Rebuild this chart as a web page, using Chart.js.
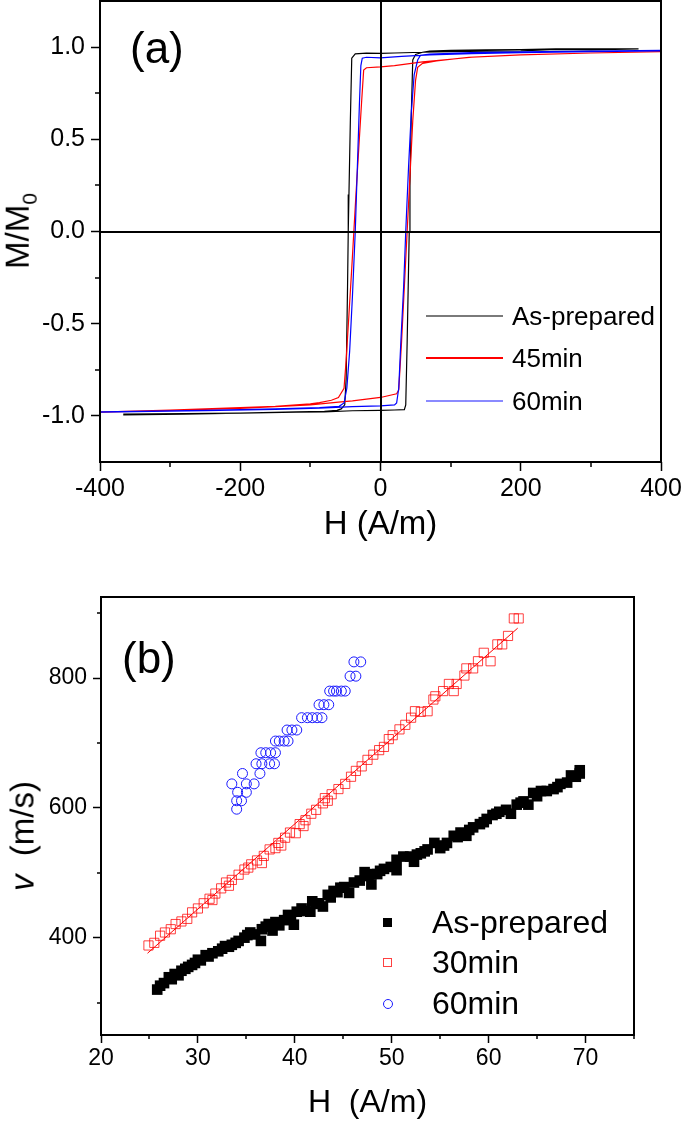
<!DOCTYPE html>
<html>
<head>
<meta charset="utf-8">
<title>Hysteresis loops and domain wall velocity</title>
<script src="https://cdn.jsdelivr.net/npm/chart.js@4.4.1/dist/chart.umd.min.js"></script>
<style>
  body { margin: 0; background: #fff; font-family: "Liberation Sans", Arial, sans-serif; }
  #page { position: relative; width: 685px; height: 1122px; overflow: hidden; }
  canvas { position: absolute; left: 0; }
  .txt { position: absolute; white-space: nowrap; color: #000; line-height: 1; }
  .ytitle { transform: translate(-50%, -50%) rotate(-90deg); }
  .leg { position: absolute; }
</style>
</head>
<body>
<div id="page">
  <canvas id="loops" width="685" height="560" style="top:0"></canvas>
  <canvas id="speed" width="685" height="552" style="top:570px"></canvas>

  <div class="txt" style="left:130px;top:26px;font-size:44px">(a)</div>
  <div class="txt ytitle" style="left:20px;top:231px;font-size:33px">M/M<sub style="font-size:21px">0</sub></div>

  <div class="txt" style="left:122px;top:636px;font-size:44px">(b)</div>
  <div class="txt ytitle" style="left:22px;top:836px;font-size:33px"><i>v</i>&nbsp; (m/s)</div>

  <div id="legA"></div>
  <div id="legB"></div>
</div>

<script>
// ---- (a) hysteresis loops: descending branch then ascending branch ----
const hPrep = [368, 300, 250, 200, 150, 100, 60, 20, 0, -20, -36, -41, -43, -45, -46, -47, -49, -51, -56, -62, -80, -120, -200, -280, -366,
               -366, -280, -200, -120, -80, -40, 0, 20, 34, 36, 38, 40, 41, 42, 44, 46, 50, 60, 70, 100, 150, 200, 250, 300, 368];
const mPrep = [0.99, 0.985, 0.987, 0.98, 0.978, 0.975, 0.972, 0.968, 0.966, 0.967, 0.963, 0.94, 0.6, 0.2, 0.0, -0.3, -0.8, -0.94, -0.962, -0.97, -0.975, -0.978, -0.985, -0.988, -0.99,
               -0.995, -0.99, -0.985, -0.98, -0.978, -0.972, -0.97, -0.968, -0.966, -0.94, -0.6, -0.2, 0.0, 0.25, 0.65, 0.93, 0.96, 0.972, 0.978, 0.982, 0.985, 0.987, 0.99, 0.99, 0.99];

const h45 = [400, 300, 200, 130, 60, 20, 0, -20, -24, -27, -31, -35, -38, -41, -45, -49, -52, -60, -70, -87, -100, -150, -200, -300, -400,
             -400, -300, -200, -100, -60, -40, 0, 23, 26, 30, 34, 38, 42, 46, 50, 53, 60, 80, 126, 200, 300, 400];
const m45 = [0.975, 0.968, 0.958, 0.945, 0.92, 0.9, 0.893, 0.888, 0.875, 0.7, 0.45, 0.2, 0.0, -0.2, -0.45, -0.7, -0.85, -0.9, -0.915, -0.928, -0.935, -0.948, -0.955, -0.968, -0.98,
             -0.98, -0.97, -0.96, -0.94, -0.925, -0.918, -0.9, -0.88, -0.86, -0.6, -0.3, 0.0, 0.3, 0.6, 0.82, 0.89, 0.912, 0.925, 0.945, 0.958, 0.968, 0.975];

const h60 = [400, 300, 200, 130, 70, 30, 0, -20, -26, -28, -30, -33, -36, -40, -44, -48, -52, -59, -87, -150, -250, -400,
             -400, -250, -150, -87, -40, 0, 20, 23, 26, 29, 33, 36, 40, 44, 48, 53, 57, 70, 130, 200, 300, 400];
const m60 = [0.98, 0.975, 0.97, 0.965, 0.958, 0.95, 0.942, 0.945, 0.94, 0.9, 0.7, 0.35, 0.0, -0.35, -0.65, -0.85, -0.93, -0.948, -0.955, -0.962, -0.97, -0.978,
             -0.98, -0.972, -0.965, -0.958, -0.95, -0.946, -0.94, -0.93, -0.85, -0.6, -0.3, 0.0, 0.35, 0.65, 0.85, 0.93, 0.955, 0.962, 0.97, 0.974, 0.978, 0.982];

const loopNames = ["As-prepared", "45min", "60min"];
const loopColors = ["#000000", "#ff0000", "#0000ff"];
const legendLineColors = ["#7a7a7a", "#ff0000", "#8a8aff"];

const xTicksA = [-400, -200, 0, 200, 400];
const xMinorA = [-300, -100, 100, 300];
const yTicksA = [-1.0, -0.5, 0.0, 0.5, 1.0];
const yMinorA = [-0.75, -0.25, 0.25, 0.75];

// ---- (b) velocity vs field ----
const hAs = [25.8, 26.1, 26.5, 27.0, 27.3, 27.6, 28.0, 28.3, 28.7, 29.0, 29.4, 29.7, 30.0, 30.3, 30.8, 31.1, 31.5, 32.1, 32.5, 32.8,
             33.2, 33.5, 33.9, 34.2, 34.8, 35.1, 35.4, 35.9, 36.5, 36.6, 37.0, 37.3, 37.7, 38.0, 38.4, 38.9, 39.3, 39.6, 39.9, 40.2,
             40.7, 41.1, 41.6, 41.8, 42.2, 42.5, 42.9, 43.4, 43.7, 44.0, 44.4, 44.7, 45.1, 45.6, 46.1, 46.7, 47.2, 47.6, 47.9, 47.9,
             48.5, 48.8, 49.2, 49.9, 50.5, 50.5, 51.2, 51.9, 52.3, 52.6, 53.0, 53.4, 53.7, 54.4, 55.0, 55.4, 55.7, 56.4, 56.8, 57.1,
             57.7, 58.0, 58.4, 59.1, 59.5, 59.8, 60.4, 60.8, 61.1, 61.8, 62.3, 62.9, 63.3, 63.6, 64.1, 64.6, 65.0, 65.4, 66.0, 66.7,
             67.1, 67.4, 68.1, 68.5, 69.0, 69.4, 69.4];
const vAs = [320, 326, 330, 339, 336, 344, 342, 349, 352, 355, 358, 361, 366, 365, 373, 371, 376, 379, 383, 387,
             386, 389, 392, 395, 400, 404, 408, 405, 395, 413, 417, 421, 411, 424, 419, 427, 435, 430, 420, 440,
             445, 441, 440, 456, 452, 453, 448, 466, 462, 472, 470, 477, 478, 469, 485, 488, 501, 495, 482, 498,
             498, 503, 506, 509, 504, 520, 525, 525, 517, 528, 530, 533, 536, 546, 538, 542, 546, 557, 555, 562,
             557, 566, 570, 575, 578, 583, 589, 591, 594, 597, 591, 605, 608, 610, 605, 623, 618, 626, 626, 629,
             632, 637, 639, 650, 648, 658, 653];

const h30 = [24.9, 25.5, 26.1, 26.6, 27.2, 27.7, 28.3, 28.9, 29.4, 30.0, 30.6, 31.2, 31.5, 31.8, 32.4, 32.9, 33.2, 33.5, 34.2, 34.8,
             35.2, 35.5, 36.1, 36.6, 36.8, 37.4, 38.0, 38.3, 38.6, 39.0, 39.5, 40.1, 40.5, 40.9, 41.1, 41.7, 42.2, 42.9, 43.1, 43.4,
             43.8, 44.5, 45.2, 45.8, 46.3, 46.9, 47.5, 48.1, 48.7, 49.2, 49.7, 50.1, 50.8, 51.4, 52.0, 52.4, 53.0, 53.7, 54.3, 54.5,
             55.3, 55.9, 56.4, 56.7, 57.5, 57.7, 58.4, 58.9, 59.5, 60.2, 60.9, 61.4, 62.0, 62.6, 63.1];
const v30 = [388, 392, 403, 408, 413, 421, 425, 429, 439, 445, 453, 460, 458, 468, 476, 485, 480, 489, 497, 505,
             508, 513, 519, 515, 526, 536, 538, 546, 542, 554, 562, 561, 575, 572, 581, 591, 597, 607, 615, 611,
             621, 629, 637, 648, 657, 664, 674, 682, 689, 694, 706, 712, 721, 728, 739, 749, 748, 749, 767, 772,
             780, 791, 780, 791, 804, 815, 815, 826, 839, 826, 852, 852, 865, 892, 892];

const h60b = [46.1, 46.8, 45.7, 46.3, 43.6, 44.0, 44.3, 44.8, 45.2, 42.5, 43.0, 43.5, 40.7, 41.3, 41.8, 42.3, 42.8,
              39.2, 39.7, 40.2, 38.0, 38.4, 38.9, 39.3, 36.5, 37.0, 37.5, 38.0, 36.0, 36.6, 37.4, 37.9,
              34.6, 36.4, 33.5, 35.0, 35.8, 34.1, 35.0, 34.0, 34.5, 34.0];
const v60b = [825, 825, 803, 803, 780, 780, 780, 780, 780, 759, 759, 759, 739, 739, 739, 739, 739,
              720, 720, 720, 703, 703, 703, 703, 685, 685, 685, 685, 668, 668, 668, 668,
              653, 653, 637, 637, 637, 624, 624, 611, 611, 598];

// linear fit through the 30min data
const fitH = [24.8, 63.0];
const fitV = [376, 877];

const speedNames = ["As-prepared", "30min", "60min"];

const xTicksB = [20, 30, 40, 50, 60, 70];
const xMinorB = [25, 35, 45, 55, 65, 75];
const yTicksB = [400, 600, 800];
const yMinorB = [300, 500, 700, 900];

const FONT = '"Liberation Sans", Arial, sans-serif';
const pts = (xs, ys) => xs.map((x, i) => ({ x: x, y: ys[i] }));

// frame, zero lines and short minor ticks
const framePlugin = {
  id: "frame",
  afterDatasetsDraw(chart, args, opts) {
    const { ctx, chartArea: a, scales: { x, y } } = chart;
    ctx.save();
    ctx.strokeStyle = "#000";
    if (opts.zero) {
      ctx.lineWidth = 2;
      const x0 = Math.round(x.getPixelForValue(0));
      const y0 = Math.round(y.getPixelForValue(0));
      ctx.beginPath();
      ctx.moveTo(x0, a.top); ctx.lineTo(x0, a.bottom);
      ctx.moveTo(a.left, y0); ctx.lineTo(a.right, y0);
      ctx.stroke();
    }
    ctx.lineWidth = 2;
    ctx.strokeRect(a.left, a.top, a.right - a.left, a.bottom - a.top);
    ctx.lineWidth = 1.5;
    ctx.beginPath();
    opts.minorX.forEach(v => {
      const px = Math.round(x.getPixelForValue(v));
      ctx.moveTo(px, a.bottom); ctx.lineTo(px, a.bottom + opts.len);
    });
    opts.minorY.forEach(v => {
      const py = Math.round(y.getPixelForValue(v));
      ctx.moveTo(a.left, py); ctx.lineTo(a.left - opts.len, py);
    });
    ctx.stroke();
    ctx.restore();
  }
};

function axis(min, max, ticks, fmt, size, tickLen, pad, fitSize, isX, title) {
  return {
    type: "linear",
    min: min, max: max,
    afterBuildTicks: s => { s.ticks = ticks.map(v => ({ value: v })); },
    afterFit: s => {
      if (isX) s.height = fitSize; else s.width = fitSize;
      // labels never sit on the plot edges here, so no extra edge padding
      s.paddingTop = 0; s.paddingBottom = 0; s.paddingLeft = 0; s.paddingRight = 0;
    },
    border: { display: false },
    grid: { drawOnChartArea: false, drawTicks: true, tickLength: tickLen, color: "#000", tickColor: "#000", tickWidth: 1.5 },
    ticks: { color: "#000", padding: pad, maxRotation: 0, autoSkip: false, font: { family: FONT, size: size }, callback: fmt },
    title: title
  };
}

// ---- chart (a) ----
new Chart(document.getElementById("loops"), {
  type: "scatter",
  data: {
    datasets: [
      { label: loopNames[0], data: pts(hPrep, mPrep), order: 2 },
      { label: loopNames[1], data: pts(h45, m45), order: 1 },
      { label: loopNames[2], data: pts(h60, m60), order: 0 }
    ].map((d, i) => Object.assign(d, {
      showLine: true, borderColor: loopColors[i], borderWidth: 1.2, pointRadius: 0, tension: 0
    }))
  },
  options: {
    responsive: false, animation: false, devicePixelRatio: 1,
    layout: { padding: { top: 1, right: 24, left: 0, bottom: 0 } },
    plugins: {
      legend: { display: false }, tooltip: { enabled: false },
      frame: { zero: true, minorX: xMinorA, minorY: yMinorA, len: 5 }
    },
    scales: {
      x: axis(-400, 400, xTicksA, v => String(v), 25, 9, 3, 98, true,
        { display: true, text: "H (A/m)", color: "#000", font: { family: FONT, size: 33 }, padding: { top: 0, bottom: 15 } }),
      y: axis(-1.25, 1.25, yTicksA, v => v.toFixed(1), 25, 9, 6, 100, false, { display: false })
    }
  },
  plugins: [framePlugin]
});

// ---- chart (b) ----
new Chart(document.getElementById("speed"), {
  type: "scatter",
  data: {
    datasets: [
      { type: "line", label: "fit", data: pts(fitH, fitV), borderColor: "#ff0000", borderWidth: 1, pointRadius: 0, order: 0 },
      { label: speedNames[1], data: pts(h30, v30), pointStyle: "rect", pointRadius: 6.5, backgroundColor: "transparent",
        borderColor: "rgba(255,0,0,0.75)", borderWidth: 1, order: 1 },
      { label: speedNames[2], data: pts(h60b, v60b), pointStyle: "circle", pointRadius: 5, backgroundColor: "transparent",
        borderColor: "#1a1aff", borderWidth: 1, order: 2 },
      { label: speedNames[0], data: pts(hAs, vAs), pointStyle: "rect", pointRadius: 7.5, backgroundColor: "#000",
        borderColor: "#000", borderWidth: 0, order: 3 }
    ]
  },
  options: {
    responsive: false, animation: false, devicePixelRatio: 1,
    layout: { padding: { top: 27, right: 51, left: 0, bottom: 0 } },
    plugins: {
      legend: { display: false }, tooltip: { enabled: false },
      frame: { zero: false, minorX: xMinorB, minorY: yMinorB, len: 4 }
    },
    scales: {
      x: axis(20, 75, xTicksB, v => String(v), 23, 8, 2, 87, true,
        { display: true, text: "H  (A/m)", color: "#000", font: { family: FONT, size: 32 }, padding: { top: 0, bottom: 0 } }),
      y: axis(250, 925, yTicksB, v => String(v), 23, 8, 6, 101, false, { display: false })
    }
  },
  plugins: [framePlugin]
});

// ---- legends (HTML, inside the plot areas) ----
const legA = document.getElementById("legA");
const rowsA = [316, 358, 401];
loopNames.forEach((name, i) => {
  legA.insertAdjacentHTML("beforeend",
    `<div class="leg" style="left:426px;top:${rowsA[i] - 1}px;width:77px;height:2px;background:${legendLineColors[i]}"></div>` +
    `<div class="txt" style="left:512px;top:${rowsA[i] - 13}px;font-size:26px">${name}</div>`);
});

const legB = document.getElementById("legB");
const rowsB = [922, 962, 1003];
const markB = [
  "width:9px;height:9px;background:#000",
  "width:7px;height:7px;border:1px solid rgba(255,0,0,0.75)",
  "width:8px;height:8px;border:1px solid #1a1aff;border-radius:50%"
];
speedNames.forEach((name, i) => {
  legB.insertAdjacentHTML("beforeend",
    `<div class="leg" style="left:383px;top:${rowsB[i] - 4}px;${markB[i]}"></div>` +
    `<div class="txt" style="left:432px;top:${rowsB[i] - 16}px;font-size:32px">${name}</div>`);
});
</script>
</body>
</html>
